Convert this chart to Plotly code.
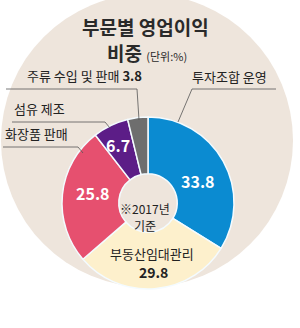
import plotly.graph_objects as go

# Data
categories = ["투자조합 운영", "부동산임대관리", "화장품 판매", "섬유 제조", "주류 수입 및 판매"]
values = [33.8, 29.8, 25.8, 6.7, 3.8]
colors = ["#0b8bd1", "#fdf0cc", "#e6506f", "#5c1d87", "#6e6e6e"]

W, H = 300, 328
FONT = "Noto Sans CJK KR"


def px(x):
    return x / W


def py(y):
    return 1 - y / H


# Donut geometry (pixels)
cx, cy, r = 148, 203, 86

fig = go.Figure()
fig.add_trace(go.Pie(
    labels=categories,
    values=values,
    sort=False,
    direction="clockwise",
    rotation=0,
    hole=0.34,
    marker=dict(colors=colors, line=dict(color="#f4fbff", width=1.5)),
    textinfo="none",
    hoverinfo="label+value",
    showlegend=False,
    domain=dict(x=[px(cx - r), px(cx + r)], y=[py(cy + r), py(cy - r)]),
))

shapes = []
# background beige circle
shapes.append(dict(type="circle", xref="paper", yref="paper",
                   x0=px(1), x1=px(293), y0=py(287), y1=py(-6),
                   fillcolor="#eee5dc", line=dict(width=0), layer="below"))

def seg(x0, y0, x1, y1):
    shapes.append(dict(type="line", xref="paper", yref="paper",
                       x0=px(x0), y0=py(y0), x1=px(x1), y1=py(y1),
                       line=dict(color="#555555", width=0.8)))

# leader lines
seg(6, 89, 137, 89); seg(137, 89, 139, 120)        # 주류
seg(192, 89, 276, 89); seg(192, 89, 178, 122)      # 투자조합
seg(12, 122, 105, 122); seg(105, 122, 110, 128)    # 섬유
seg(3, 147, 78, 147); seg(78, 147, 83, 153)        # 화장품

annotations = []

def ann(text, x, y, size, color="#222222", bold=False, xanchor="center"):
    if bold:
        text = "<b>" + text + "</b>"
    annotations.append(dict(text=text, x=px(x), y=py(y), xref="paper", yref="paper",
                            showarrow=False, xanchor=xanchor, yanchor="middle",
                            font=dict(family=FONT, size=size, color=color)))

ann("부문별 영업이익", 145, 27, 19, "#2a2a2a", bold=True)
ann("<b>비중</b> <span style='font-size:11px'>(단위:%)</span>", 147, 52, 19, "#2a2a2a")

ann(f"{categories[4]} <b>{values[4]}</b>", 25, 75, 13, xanchor="left")
ann(categories[0], 190, 76, 13, xanchor="left")
ann(categories[3], 12, 108, 13, xanchor="left")
ann(categories[2], 3, 134, 13, xanchor="left")

ann(f"{values[0]}", 198, 181, 16, "#ffffff", bold=True)
ann(f"{values[2]}", 93, 193, 16, "#ffffff", bold=True)
ann(f"{values[3]}", 118, 145, 16, "#ffffff", bold=True)
ann(categories[1], 152, 253, 13)
ann(f"{values[1]}", 153, 272, 14, bold=True)
ann("※2017년", 145, 208, 12)
ann("기준", 145, 225, 12)

fig.update_layout(
    width=W, height=H,
    margin=dict(l=0, r=0, t=0, b=0),
    paper_bgcolor="white", plot_bgcolor="white",
    shapes=shapes, annotations=annotations,
)

fig.write_html("out.html")
